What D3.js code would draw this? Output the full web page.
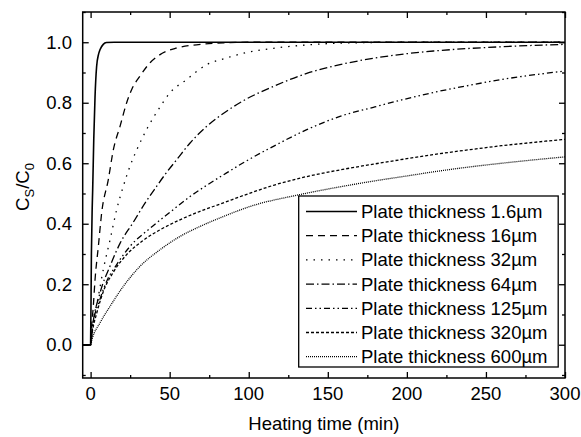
<!DOCTYPE html>
<html>
<head>
<meta charset="utf-8">
<script src="https://cdn.jsdelivr.net/npm/d3@7"></script>
<style>
  body { margin: 0; background: #fff; }
  text { font-family: "Liberation Sans", Arial, sans-serif; fill: #000; }
</style>
</head>
<body>
<svg id="chart" width="581" height="437"></svg>
<script>
// series: [time (min), Cs/C0]
const thicknessLabels = ["1.6", "16", "32", "64", "125", "320", "600"];

const s1_6 = [[-5, 0], [0, 0], [0.5, 0.3], [1, 0.45], [1.3, 0.51], [2, 0.68], [2.8, 0.82], [3.8, 0.92],
  [5, 0.96], [6, 0.976], [8, 0.993], [10, 0.999], [15, 1], [300, 1]];
const s16 = [[-5, 0], [0, 0], [0.5, 0.05], [1.7, 0.127], [2.8, 0.215], [4.9, 0.325], [7, 0.436], [11.2, 0.546],
  [14.4, 0.645], [18.6, 0.722], [22.8, 0.8], [26, 0.844], [31.2, 0.888], [37.6, 0.932], [43.9, 0.959],
  [54.5, 0.981], [70, 0.993], [85, 0.998], [100, 1], [300, 1]];
const s32 = [[-5, 0], [0, 0], [1, 0.05], [4.9, 0.16], [8, 0.248], [12.3, 0.347], [16.5, 0.447], [20.7, 0.524],
  [24.9, 0.59], [30.2, 0.656], [36.5, 0.722], [42.8, 0.777], [50.2, 0.833], [60.8, 0.877], [73.4, 0.926],
  [86, 0.948], [96, 0.963], [115.6, 0.98], [136.7, 0.991], [157.8, 0.997], [200, 1], [300, 1]];
const s64 = [[-5, 0], [0, 0], [1, 0.05], [5.9, 0.17], [12.3, 0.26], [18.6, 0.335], [27, 0.405], [34.4, 0.468],
  [41.8, 0.524], [47.1, 0.563], [54.5, 0.612], [62.9, 0.667], [73.4, 0.722], [86, 0.772], [96, 0.805],
  [115.6, 0.854], [136.7, 0.897], [157.7, 0.926], [178.8, 0.947], [198, 0.961], [216.8, 0.971],
  [237.9, 0.979], [259, 0.985], [300, 0.993]];
const s125 = [[-5, 0], [0, 0], [1, 0.05], [5.9, 0.15], [10.2, 0.21], [16.5, 0.265], [24.9, 0.325], [37.6, 0.385],
  [50.2, 0.438], [62.9, 0.49], [73.4, 0.527], [86, 0.568], [96, 0.6], [115.6, 0.656], [136.7, 0.711],
  [157.7, 0.755], [178.8, 0.785], [198, 0.811], [216.8, 0.834], [237.9, 0.856], [259, 0.876], [300, 0.905]];
const s320 = [[-5, 0], [0, 0], [1, 0.04], [3.9, 0.105], [8, 0.175], [14.4, 0.24], [22.8, 0.298], [33.3, 0.345],
  [43.9, 0.38], [56.5, 0.413], [69.2, 0.441], [84, 0.469], [97, 0.494], [115.6, 0.527], [136.7, 0.556],
  [157.7, 0.578], [178.8, 0.597], [200, 0.615], [220, 0.631], [240, 0.645], [260, 0.658], [280, 0.669],
  [300, 0.679]];
const s600 = [[-5, 0], [0, 0], [1, 0.02], [5.9, 0.072], [12.3, 0.127], [20.7, 0.193], [31.2, 0.259],
  [43.9, 0.314], [56.5, 0.358], [69.2, 0.391], [84, 0.424], [100.8, 0.457], [132, 0.496], [157.7, 0.522],
  [178.8, 0.541], [200, 0.558], [220, 0.574], [240, 0.588], [260, 0.6], [280, 0.611], [300, 0.621]];

const seriesList = [s1_6, s16, s32, s64, s125, s320, s600];
const dashList = ["none", "7,5", "1.5,6", "8,3,1.5,3", "6,3,1.5,3,1.5,3", "3,2", "1,1"];

const xTicks = [0, 50, 100, 150, 200, 250, 300];
const yTicks = [0.0, 0.2, 0.4, 0.6, 0.8, 1.0];

const svg = d3.select("#chart");

const x = d3.scaleLinear().domain([-5, 300]).range([82.7, 565]);
const y = d3.scaleLinear().domain([-0.11, 1.1]).range([378, 12]);

const plotLeft = x.range()[0], plotRight = x.range()[1];
const plotTop = y.range()[1], plotBottom = y.range()[0];

// clip so lines stay in the frame
svg.append("defs").append("clipPath").attr("id", "clip")
  .append("rect").attr("x", plotLeft).attr("y", plotTop)
  .attr("width", plotRight - plotLeft).attr("height", plotBottom - plotTop);

const line = d3.line()
  .x((d) => x(d[0]))
  .y((d) => y(d[1]))
  .curve(d3.curveMonotoneX);

svg.append("g").attr("clip-path", "url(#clip)")
  .selectAll("path")
  .data(seriesList)
  .join("path")
  .attr("d", line)
  .attr("fill", "none")
  .attr("stroke", "#000")
  .attr("stroke-width", (d, i) => (i === 0 ? 1.6 : 1.3))
  .attr("stroke-dasharray", (d, i) => dashList[i]);

// ticks on all four sides, pointing inward
const xMinor = d3.range(25, 300, 50);
const yMinor = d3.range(-0.1, 1.1, 0.2).map((v) => +v.toFixed(1));

svg.append("g").attr("transform", `translate(0,${plotBottom})`)
  .call(d3.axisTop(x).tickValues(xTicks).tickSize(6).tickFormat(""));
svg.append("g").attr("transform", `translate(0,${plotBottom})`)
  .call(d3.axisTop(x).tickValues(xMinor).tickSize(3).tickFormat(""));
svg.append("g").attr("transform", `translate(0,${plotTop})`)
  .call(d3.axisBottom(x).tickValues(xTicks).tickSize(6).tickFormat(""));
svg.append("g").attr("transform", `translate(0,${plotTop})`)
  .call(d3.axisBottom(x).tickValues(xMinor).tickSize(3).tickFormat(""));
svg.append("g").attr("transform", `translate(${plotLeft},0)`)
  .call(d3.axisRight(y).tickValues(yTicks).tickSize(6).tickFormat(""));
svg.append("g").attr("transform", `translate(${plotLeft},0)`)
  .call(d3.axisRight(y).tickValues(yMinor).tickSize(3).tickFormat(""));
svg.append("g").attr("transform", `translate(${plotRight},0)`)
  .call(d3.axisLeft(y).tickValues(yTicks).tickSize(6).tickFormat(""));
svg.append("g").attr("transform", `translate(${plotRight},0)`)
  .call(d3.axisLeft(y).tickValues(yMinor).tickSize(3).tickFormat(""));

svg.selectAll(".domain").remove();
svg.selectAll(".tick line").attr("stroke", "#000").attr("stroke-width", 1.3);

// frame
svg.append("rect")
  .attr("x", plotLeft).attr("y", plotTop)
  .attr("width", plotRight - plotLeft).attr("height", plotBottom - plotTop)
  .attr("fill", "none").attr("stroke", "#000").attr("stroke-width", 1.5);

// tick labels
svg.append("g").selectAll("text")
  .data(xTicks)
  .join("text")
  .attr("x", (d) => x(d))
  .attr("y", 400)
  .attr("text-anchor", "middle")
  .attr("font-size", 18.5)
  .text((d) => d);

svg.append("g").selectAll("text")
  .data(yTicks)
  .join("text")
  .attr("x", 72)
  .attr("y", (d) => y(d) + 6.5)
  .attr("text-anchor", "end")
  .attr("font-size", 18.5)
  .text((d) => d.toFixed(1));

// axis titles
svg.append("text")
  .attr("x", (plotLeft + plotRight) / 2)
  .attr("y", 430)
  .attr("text-anchor", "middle")
  .attr("font-size", 18.5)
  .text("Heating time (min)");

const yTitle = svg.append("text")
  .attr("transform", "translate(29,187) rotate(-90)")
  .attr("text-anchor", "middle")
  .attr("font-size", 18.5);
yTitle.append("tspan").text("C");
yTitle.append("tspan").attr("font-size", 13).attr("dy", 5).text("S");
yTitle.append("tspan").attr("dy", -5).text("/C");
yTitle.append("tspan").attr("font-size", 13).attr("dy", 5).text("0");

// legend
const legend = svg.append("g");
legend.append("rect")
  .attr("x", 298.7).attr("y", 196)
  .attr("width", 259.5).attr("height", 171)
  .attr("fill", "#fff").attr("stroke", "#000").attr("stroke-width", 1.3);

const rows = legend.selectAll("g.row")
  .data(thicknessLabels)
  .join("g")
  .attr("class", "row")
  .attr("transform", (d, i) => `translate(0,${211.5 + i * 24.2})`);

rows.append("line")
  .attr("x1", 306).attr("x2", 357)
  .attr("y1", 0).attr("y2", 0)
  .attr("stroke", "#000")
  .attr("stroke-width", (d, i) => (i === 0 ? 1.6 : 1.3))
  .attr("stroke-dasharray", (d, i) => dashList[i]);

rows.append("text")
  .attr("x", 361)
  .attr("y", 6.5)
  .attr("font-size", 18.5)
  .text((d) => `Plate thickness ${d}\u00b5m`);
</script>
</body>
</html>
